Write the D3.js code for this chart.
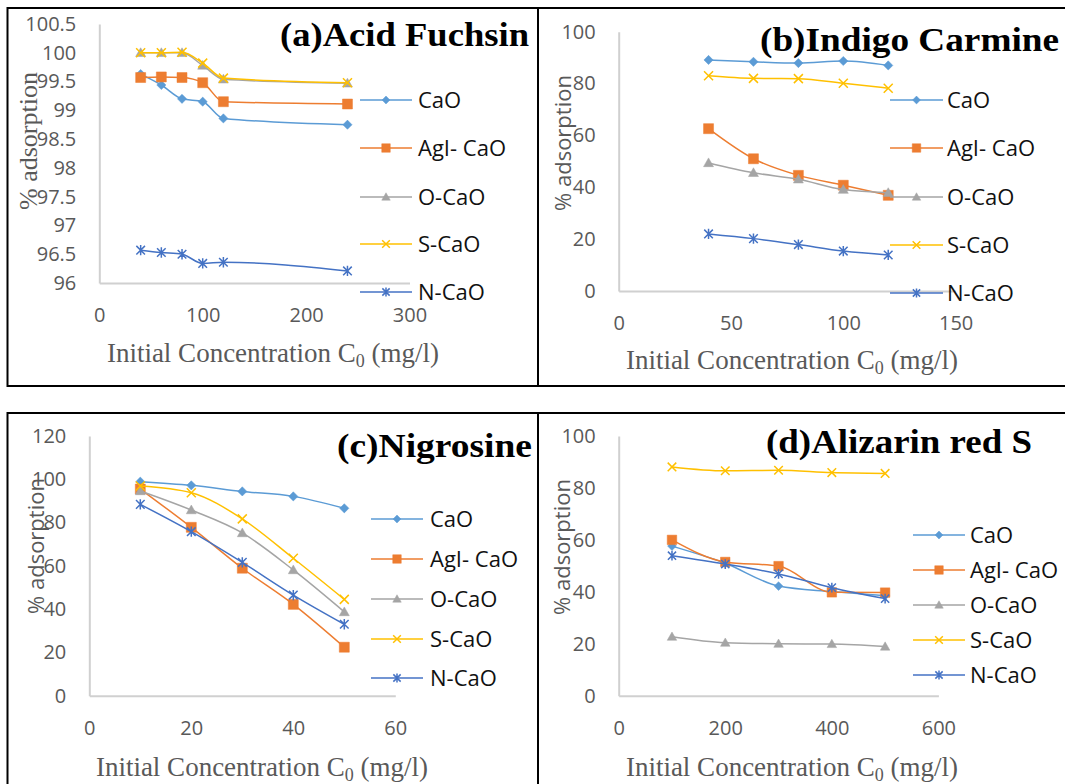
<!DOCTYPE html>
<meta charset="utf-8">
<script src="https://d3js.org/d3.v7.min.js"></script>
<style>body { margin: 0; background: #fff; }</style>
<body>
<div id="chart_area"></div>
<script>

    // legend order of the five adsorbents
    let seriesNames = ["CaO", "AgI- CaO", "O-CaO", "S-CaO", "N-CaO"];

    // (a) Acid Fuchsin
    let acidX = [40, 60, 80, 100, 120, 240];
    let acidCaO = [99.63, 99.44, 99.2, 99.15, 98.86, 98.75];
    let acidAgI = [99.57, 99.58, 99.57, 99.48, 99.15, 99.11];
    let acidO = [100.0, 100.0, 100.0, 99.78, 99.54, 99.47];
    let acidS = [100.0, 100.0, 100.01, 99.82, 99.56, 99.48];
    let acidN = [96.57, 96.53, 96.5, 96.34, 96.36, 96.21];
    let acidXTicks = [0, 100, 200, 300];
    let acidYTicks = [96, 96.5, 97, 97.5, 98, 98.5, 99, 99.5, 100, 100.5];

    // (b) Indigo Carmine
    let indigoX = [40, 60, 80, 100, 120];
    let indigoCaO = [89.1, 88.4, 87.9, 88.7, 87.0];
    let indigoAgI = [62.6, 51.0, 44.6, 40.8, 36.9];
    let indigoO = [49.4, 45.6, 43.1, 39.1, 37.9];
    let indigoS = [83.0, 82.0, 81.9, 80.1, 78.2];
    let indigoN = [22.0, 20.2, 17.9, 15.4, 13.9];
    let indigoXTicks = [0, 50, 100, 150];
    let indigoYTicks = [0, 20, 40, 60, 80, 100];

    // (c) Nigrosine
    let nigroX = [10, 20, 30, 40, 50];
    let nigroCaO = [98.9, 97.2, 94.4, 92.1, 86.6];
    let nigroAgI = [95.5, 77.8, 58.9, 42.2, 22.4];
    let nigroO = [94.6, 85.8, 75.2, 58.1, 38.7];
    let nigroS = [96.9, 93.8, 81.7, 63.5, 44.5];
    let nigroN = [88.4, 75.8, 61.6, 46.5, 33.0];
    let nigroXTicks = [0, 20, 40, 60];
    let nigroYTicks = [0, 20, 40, 60, 80, 100, 120];

    // (d) Alizarin red S
    let alizX = [100, 200, 300, 400, 500];
    let alizCaO = [57.6, 51.0, 42.2, 40.1, 38.5];
    let alizAgI = [60.0, 51.5, 49.9, 39.8, 39.7];
    let alizO = [22.7, 20.4, 20.0, 19.9, 18.9];
    let alizS = [88.1, 86.6, 86.8, 85.9, 85.6];
    let alizN = [53.9, 50.7, 46.9, 41.6, 37.4];
    let alizXTicks = [0, 200, 400, 600];
    let alizYTicks = [0, 20, 40, 60, 80, 100];

    // excel-like colours and markers
    let colors = ["#5B9BD5", "#ED7D31", "#A5A5A5", "#FFC000", "#4472C4"];
    let markers = ["diamond", "square", "triangle", "x", "star"];

    let sans = "'Open Sans', 'Noto Sans', sans-serif";
    let serif = "'Liberation Serif', 'DejaVu Serif', serif";

    let svg = d3.select("#chart_area")
                .append("svg")
                    .attr("width", 1065)
                    .attr("height", 784);

    // panel frames
    svg.append("rect").attr("x", 7.5).attr("y", 8).attr("width", 1080).attr("height", 378)
        .attr("fill", "none").attr("stroke", "#000").attr("stroke-width", 2);
    svg.append("rect").attr("x", 7.5).attr("y", 413).attr("width", 1080).attr("height", 400)
        .attr("fill", "none").attr("stroke", "#000").attr("stroke-width", 2);
    svg.append("line").attr("x1", 538).attr("x2", 538).attr("y1", 8).attr("y2", 386)
        .attr("stroke", "#000").attr("stroke-width", 2);
    svg.append("line").attr("x1", 538).attr("x2", 538).attr("y1", 413).attr("y2", 790)
        .attr("stroke", "#000").attr("stroke-width", 2);

    function markerPath(type, s) {
        if (type === "diamond") return `M0,${-s}L${s},0L0,${s}L${-s},0Z`;
        if (type === "square") return `M${-s},${-s}H${s}V${s}H${-s}Z`;
        if (type === "triangle") return `M0,${-s}L${s},${s * 0.75}L${-s},${s * 0.75}Z`;
        if (type === "x") return `M${-s},${-s}L${s},${s}M${-s},${s}L${s},${-s}`;
        // star = x with a vertical bar
        return `M${-s},${-s}L${s},${s}M${-s},${s}L${s},${-s}M0,${-s * 1.2}L0,${s * 1.2}`;
    }
    let markerSize = {diamond: 4.6, square: 5, triangle: 5, x: 4.5, star: 4.3};

    function drawMarker(g, type, color, cx, cy, scale) {
        let s = markerSize[type] * scale;
        let filled = type === "diamond" || type === "square" || type === "triangle";
        g.append("path")
            .attr("d", markerPath(type, s))
            .attr("transform", `translate(${cx},${cy})`)
            .attr("fill", filled ? color : "none")
            .attr("stroke", color)
            .attr("stroke-width", filled ? 0.5 : 1.5);
    }

    function drawPanel(p) {
        let g = svg.append("g");

        let x = d3.scaleLinear().domain(p.xDomain).range([p.left, p.right]);
        let y = d3.scaleLinear().domain(p.yDomain).range([p.bottom, p.top]);

        let xAxis = g.append("g")
            .attr("transform", `translate(0,${p.bottom})`)
            .call(d3.axisBottom(x).tickValues(p.xTicks).tickFormat(d => String(d))
                .tickSize(0).tickSizeOuter(0).tickPadding(25));
        let yAxis = g.append("g")
            .attr("transform", `translate(${p.left},0)`)
            .call(d3.axisLeft(y).tickValues(p.yTicks).tickFormat(d => String(d))
                .tickSize(0).tickSizeOuter(0).tickPadding(23));

        [xAxis, yAxis].forEach(a => {
            a.select(".domain").attr("stroke", "#d0d0d0").attr("stroke-width", 2);
            a.selectAll("text")
                .attr("fill", "#595959")
                .style("font-family", sans)
                .style("font-size", "20px");
        });

        // series lines + markers (smoothed like excel)
        let line = d3.line()
            .x(d => x(d[0]))
            .y(d => y(d[1]))
            .curve(d3.curveMonotoneX);

        p.series.forEach((vals, i) => {
            let pts = p.xs.map((xv, j) => [xv, vals[j]]);
            g.append("path")
                .attr("d", line(pts))
                .attr("fill", "none")
                .attr("stroke", colors[i])
                .attr("stroke-width", 1.5);
            pts.forEach(pt => drawMarker(g, markers[i], colors[i], x(pt[0]), y(pt[1]), p.markerScale));
        });

        // legend
        seriesNames.forEach((name, i) => {
            let ly = p.legend.rows[i];
            g.append("line")
                .attr("x1", p.legend.x0).attr("x2", p.legend.x1)
                .attr("y1", ly).attr("y2", ly)
                .attr("stroke", colors[i]).attr("stroke-width", 1.5);
            drawMarker(g, markers[i], colors[i], (p.legend.x0 + p.legend.x1) / 2, ly, 0.85);
            g.append("text")
                .attr("x", p.legend.tx)
                .attr("y", ly + 8)
                .attr("fill", "#111")
                .style("font-family", sans)
                .style("font-size", "22px")
                .text(name);
        });

        // panel title
        g.append("text")
            .attr("x", p.title.x)
            .attr("y", p.title.y)
            .attr("text-anchor", "end")
            .attr("textLength", p.title.len)
            .attr("lengthAdjust", "spacingAndGlyphs")
            .style("font-family", serif)
            .style("font-weight", "bold")
            .style("font-size", "34px")
            .attr("fill", "#000")
            .text(p.title.text);

        // y axis title
        g.append("text")
            .attr("transform", `translate(${p.yTitle.x},${p.yTitle.y}) rotate(-90)`)
            .attr("text-anchor", "middle")
            .attr("fill", "#595959")
            .style("font-family", p.yTitle.serif ? serif : sans)
            .style("font-size", p.yTitle.serif ? "26px" : "22px")
            .text("% adsorption");

        // x axis title with subscript 0
        let xt = g.append("text")
            .attr("x", p.xTitle.x)
            .attr("y", p.xTitle.y)
            .attr("text-anchor", "middle")
            .attr("fill", "#595959")
            .style("font-family", serif)
            .style("font-size", "27px");
        xt.append("tspan").text("Initial Concentration C");
        xt.append("tspan").attr("dy", 5).style("font-size", "18px").text("0");
        xt.append("tspan").attr("dy", -5).text(" (mg/l)");
    }

    drawPanel({
        xDomain: [0, 300], yDomain: [96, 100.5],
        left: 99.3, right: 409.5, top: 24, bottom: 283,
        xTicks: acidXTicks, yTicks: acidYTicks,
        xs: acidX, series: [acidCaO, acidAgI, acidO, acidS, acidN],
        markerScale: 1,
        legend: {x0: 360, x1: 412, tx: 418, rows: [100, 148, 197, 244, 292]},
        title: {text: "(a)Acid Fuchsin", x: 529, y: 46, len: 249},
        yTitle: {x: 37, y: 141, serif: true},
        xTitle: {x: 273, y: 362}
    });

    drawPanel({
        xDomain: [0, 150], yDomain: [0, 100],
        left: 618.7, right: 955.6, top: 31.7, bottom: 291,
        xTicks: indigoXTicks, yTicks: indigoYTicks,
        xs: indigoX, series: [indigoCaO, indigoAgI, indigoO, indigoS, indigoN],
        markerScale: 1,
        legend: {x0: 890, x1: 943, tx: 947, rows: [100, 148, 197, 245, 293]},
        title: {text: "(b)Indigo Carmine", x: 1059, y: 51, len: 299},
        yTitle: {x: 571, y: 143, serif: false},
        xTitle: {x: 792, y: 369}
    });

    drawPanel({
        xDomain: [0, 60], yDomain: [0, 120],
        left: 89.3, right: 395.3, top: 436, bottom: 695.7,
        xTicks: nigroXTicks, yTicks: nigroYTicks,
        xs: nigroX, series: [nigroCaO, nigroAgI, nigroO, nigroS, nigroN],
        markerScale: 1,
        legend: {x0: 371, x1: 423, tx: 430, rows: [519, 559, 599, 639, 678]},
        title: {text: "(c)Nigrosine", x: 532, y: 457, len: 195},
        yTitle: {x: 44, y: 546, serif: false},
        xTitle: {x: 262, y: 776}
    });

    drawPanel({
        xDomain: [0, 600], yDomain: [0, 100],
        left: 618.7, right: 938.4, top: 436, bottom: 695.7,
        xTicks: alizXTicks, yTicks: alizYTicks,
        xs: alizX, series: [alizCaO, alizAgI, alizO, alizS, alizN],
        markerScale: 0.95,
        legend: {x0: 913, x1: 965, tx: 970, rows: [535, 570, 605, 640, 675]},
        title: {text: "(d)Alizarin red S", x: 1032, y: 453, len: 266},
        yTitle: {x: 570, y: 547, serif: false},
        xTitle: {x: 792, y: 776}
    });

</script>
</body>
